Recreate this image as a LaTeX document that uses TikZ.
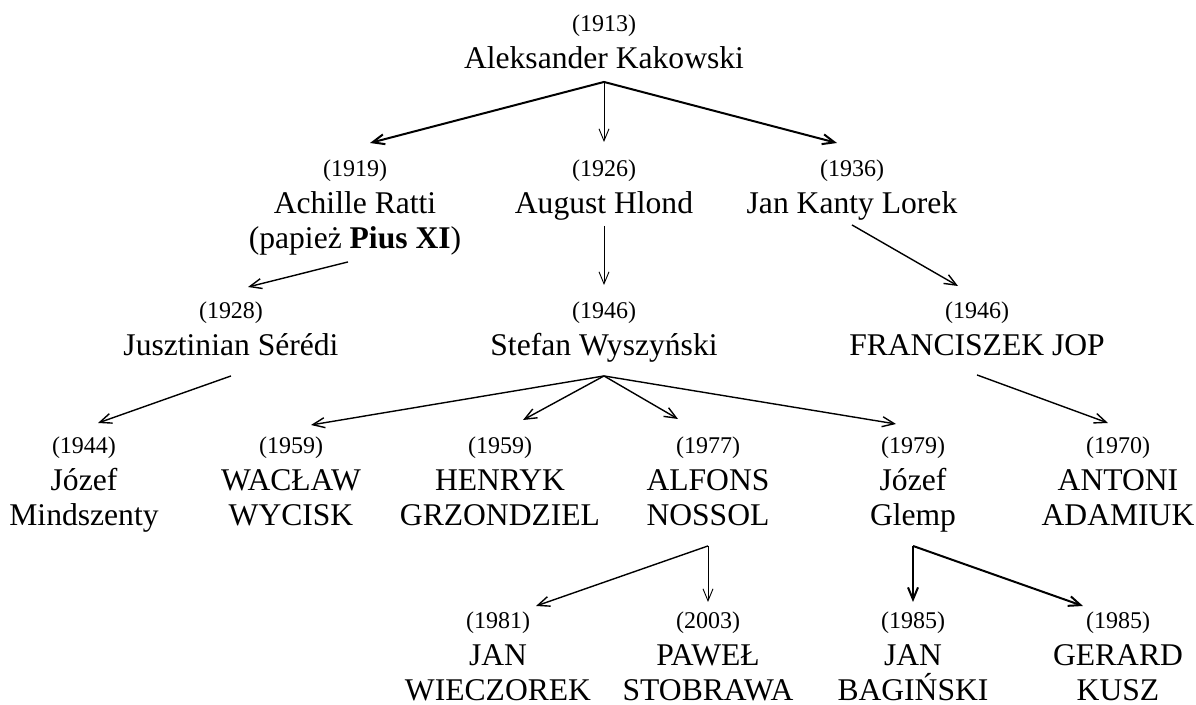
\documentclass[tikz,border=0pt]{standalone}
\usepackage{fontspec}
\setmainfont{Liberation Serif}
\usetikzlibrary{arrows.meta}

\newcommand{\yr}[1]{{\fontsize{12}{17.5}\selectfont(#1)}\\[1.25pt]}
\tikzset{
  bishop/.style={anchor=north, align=center, inner sep=0pt, text depth=4pt,
    font=\fontsize{15.8}{17.5}\selectfont},
  link/.style={-{Straight Barb[length=6pt,width=5pt]}, line width=.45pt},
  mid link/.style={link, line width=.7pt},
  thick link/.style={link, line width=1pt}
}

\begin{document}
\begin{tikzpicture}[x=0.5pt,y=-0.5pt]
\useasboundingbox (0,0) rectangle (1196,705);

\node[bishop] (root) at (604,14) {\yr{1913}Aleksander Kakowski};

\node[bishop] (ratti) at (355,159) {\yr{1919}Achille Ratti\\(papież \textbf{Pius XI})};
\node[bishop] (hlond) at (604,159) {\yr{1926}August Hlond};
\node[bishop] (lorek) at (852,159) {\yr{1936}Jan Kanty Lorek};

\node[bishop] (seredi) at (231,301) {\yr{1928}Jusztinian Sérédi};
\node[bishop] (wyszynski) at (604,301) {\yr{1946}Stefan Wyszyński};
\node[bishop] (jop) at (977,301) {\yr{1946}FRANCISZEK JOP};

\node[bishop] (mindszenty) at (84,436) {\yr{1944}Józef\\Mindszenty};
\node[bishop] (wycisk) at (291,436) {\yr{1959}WACŁAW\\WYCISK};
\node[bishop] (grzondziel) at (500,436) {\yr{1959}HENRYK\\GRZONDZIEL};
\node[bishop] (nossol) at (708,436) {\yr{1977}ALFONS\\NOSSOL};
\node[bishop] (glemp) at (913,436) {\yr{1979}Józef\\Glemp};
\node[bishop] (adamiuk) at (1118,436) {\yr{1970}ANTONI\\ADAMIUK};

\node[bishop] (wieczorek) at (498,611) {\yr{1981}JAN\\WIECZOREK};
\node[bishop] (stobrawa) at (708,611) {\yr{2003}PAWEŁ\\STOBRAWA};
\node[bishop] (baginski) at (913,611) {\yr{1985}JAN\\BAGIŃSKI};
\node[bishop] (kusz) at (1118,611) {\yr{1985}GERARD\\KUSZ};

\draw[thick link] ([shift={(0,5)}]root.south) -- ([shift={(15,-16)}]ratti.north); % root - ratti
\draw[link] ([shift={(0,5)}]root.south) -- ([shift={(0,-17)}]hlond.north); % root - hlond
\draw[thick link] ([shift={(0,5)}]root.south) -- ([shift={(-15,-16)}]lorek.north); % root - lorek

\draw[mid link] ([shift={(-7,5)}]ratti.south) -- ([shift={(17,-14)}]seredi.north); % ratti - seredi
\draw[link] ([shift={(0,4)}]hlond.south) -- ([shift={(0,-16)}]wyszynski.north); % hlond - wyszynski
\draw[mid link] ([shift={(0,3)}]lorek.south) -- ([shift={(-19,-15)}]jop.north); % lorek - jop

\draw[mid link] ([shift={(0,12)}]seredi.south) -- ([shift={(14,-13)}]mindszenty.north); % seredi - mindszenty
\draw[mid link] ([shift={(0,12)}]wyszynski.south) -- ([shift={(20,-11)}]wycisk.north); % wyszynski - wycisk
\draw[mid link] ([shift={(0,12)}]wyszynski.south) -- ([shift={(23,-16)}]grzondziel.north); % wyszynski - grzondziel
\draw[mid link] ([shift={(0,12)}]wyszynski.south) -- ([shift={(-30,-17)}]nossol.north); % wyszynski - nossol
\draw[mid link] ([shift={(0,12)}]wyszynski.south) -- ([shift={(-17,-12)}]glemp.north); % wyszynski - glemp
\draw[mid link] ([shift={(0,11)}]jop.south) -- ([shift={(-10,-13)}]adamiuk.north); % jop - adamiuk

\draw[mid link] ([shift={(0,12)}]nossol.south) -- ([shift={(38,-5)}]wieczorek.north); % nossol - wieczorek
\draw[link] ([shift={(0,12)}]nossol.south) -- ([shift={(0,-9)}]stobrawa.north); % nossol - stobrawa
\draw[thick link] ([shift={(0,12)}]glemp.south) -- ([shift={(0,-9)}]baginski.north); % glemp - baginski
\draw[thick link] ([shift={(0,12)}]glemp.south) -- ([shift={(-35,-5)}]kusz.north); % glemp - kusz

\end{tikzpicture}
\end{document}
